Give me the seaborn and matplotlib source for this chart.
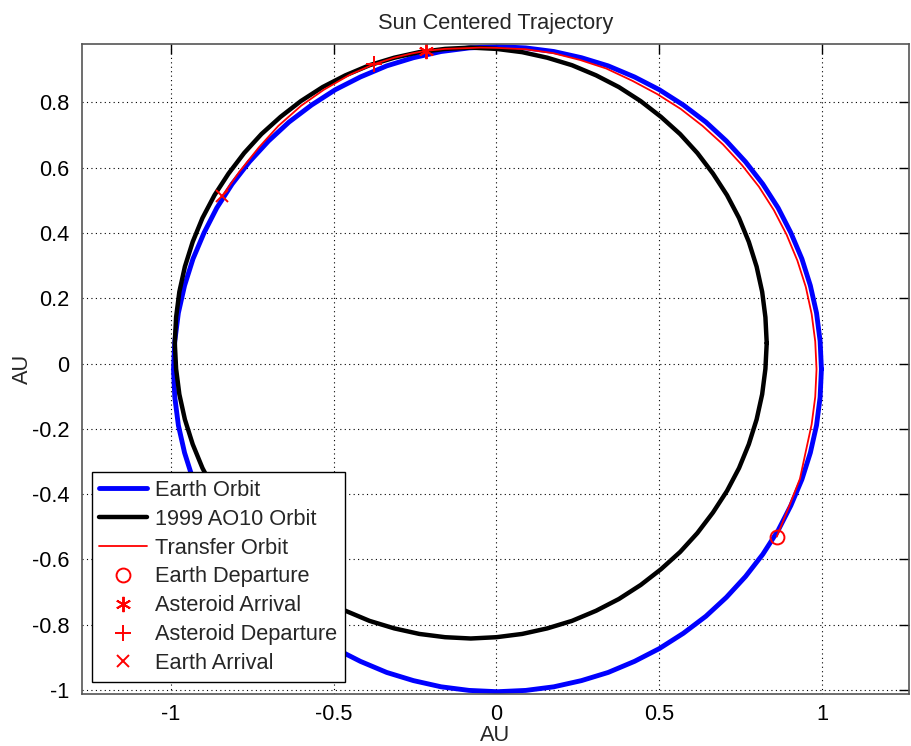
import matplotlib
matplotlib.use("Agg")
import matplotlib.pyplot as plt
import seaborn as sns

## orbit points (AU), going round counter-clockwise
earth_x = [0.998, 0.994, 0.983, 0.964, 0.938, 0.904, 0.865, 0.818, 0.765, 0.706,
           0.643, 0.574, 0.500, 0.424, 0.343, 0.261, 0.176, 0.090, 0.003,
           -0.084, -0.170, -0.255, -0.337, -0.418, -0.495, -0.568, -0.637, -0.700,
           -0.759, -0.812, -0.859, -0.898, -0.932, -0.958, -0.977, -0.988, -0.992,
           -0.988, -0.977, -0.958, -0.932, -0.898, -0.859, -0.812, -0.759, -0.700,
           -0.637, -0.568, -0.495, -0.418, -0.337, -0.255, -0.170, -0.084, 0.003,
           0.090, 0.176, 0.261, 0.343, 0.424, 0.500, 0.574, 0.643, 0.706,
           0.765, 0.818, 0.865, 0.904, 0.938, 0.964, 0.983, 0.994, 0.998]
earth_y = [-0.017, 0.069, 0.155, 0.239, 0.321, 0.401, 0.477, 0.550, 0.618, 0.682,
           0.740, 0.792, 0.839, 0.878, 0.912, 0.937, 0.956, 0.967, 0.971,
           0.967, 0.956, 0.937, 0.912, 0.878, 0.839, 0.792, 0.740, 0.682,
           0.618, 0.550, 0.477, 0.401, 0.321, 0.239, 0.155, 0.069, -0.017,
           -0.103, -0.189, -0.273, -0.355, -0.435, -0.511, -0.584, -0.652, -0.716,
           -0.774, -0.826, -0.873, -0.912, -0.946, -0.971, -0.990, -1.001, -1.005,
           -1.001, -0.990, -0.971, -0.946, -0.912, -0.873, -0.826, -0.774, -0.716,
           -0.652, -0.584, -0.511, -0.435, -0.355, -0.273, -0.189, -0.103, -0.017]

ast_x = [0.830, 0.826, 0.816, 0.799, 0.775, 0.745, 0.708, 0.665, 0.617, 0.564,
         0.505, 0.443, 0.376, 0.306, 0.232, 0.156, 0.079, 0.000, -0.079,
         -0.158, -0.237, -0.314, -0.390, -0.464, -0.534, -0.601, -0.663, -0.722,
         -0.775, -0.823, -0.866, -0.903, -0.933, -0.957, -0.974, -0.984, -0.988,
         -0.984, -0.974, -0.957, -0.933, -0.903, -0.866, -0.823, -0.775, -0.722,
         -0.663, -0.601, -0.534, -0.464, -0.390, -0.314, -0.237, -0.158, -0.079,
         0.000, 0.079, 0.156, 0.232, 0.306, 0.376, 0.443, 0.505, 0.564,
         0.617, 0.665, 0.708, 0.745, 0.775, 0.799, 0.816, 0.826, 0.830]
ast_y = [0.063, 0.142, 0.220, 0.297, 0.373, 0.446, 0.516, 0.582, 0.645, 0.703,
         0.756, 0.804, 0.847, 0.883, 0.914, 0.937, 0.954, 0.964, 0.968,
         0.964, 0.954, 0.937, 0.914, 0.883, 0.847, 0.804, 0.756, 0.703,
         0.645, 0.582, 0.516, 0.446, 0.373, 0.297, 0.220, 0.142, 0.063,
         -0.016, -0.094, -0.171, -0.247, -0.320, -0.390, -0.456, -0.519, -0.577,
         -0.630, -0.678, -0.721, -0.757, -0.788, -0.811, -0.828, -0.838, -0.842,
         -0.838, -0.828, -0.811, -0.788, -0.757, -0.721, -0.678, -0.630, -0.577,
         -0.519, -0.456, -0.390, -0.320, -0.247, -0.171, -0.094, -0.016, 0.063]

transfer_x = [0.861, 0.900, 0.932, 0.950, 0.968, 0.979, 0.983, 0.979, 0.968, 0.950,
              0.924, 0.891, 0.852, 0.806, 0.754, 0.696, 0.633, 0.566, 0.493, 0.418,
              0.337, 0.257, 0.174, 0.089, 0.003, -0.050, -0.100, -0.158, -0.217,
              -0.260, -0.314, -0.377, -0.450, -0.530, -0.600, -0.670, -0.730,
              -0.790, -0.815, -0.842]
transfer_y = [-0.530, -0.434, -0.353, -0.269, -0.186, -0.102, -0.017, 0.068, 0.152, 0.235,
              0.316, 0.395, 0.470, 0.542, 0.608, 0.671, 0.728, 0.780, 0.826, 0.866,
              0.904, 0.930, 0.951, 0.963, 0.967, 0.968, 0.966, 0.964, 0.958,
              0.950, 0.937, 0.917, 0.885, 0.839, 0.790, 0.728, 0.662,
              0.587, 0.552, 0.514]

## event markers
earth_dep = (0.861, -0.530)
ast_arr = (-0.217, 0.958)
ast_dep = (-0.377, 0.917)
earth_arr = (-0.842, 0.514)

x_ticks = [-1, -0.5, 0, 0.5, 1]
x_labels = ['-1', '-0.5', '0', '0.5', '1']
y_ticks = [-1, -0.8, -0.6, -0.4, -0.2, 0, 0.2, 0.4, 0.6, 0.8]
y_labels = ['-1', '-0.8', '-0.6', '-0.4', '-0.2', '0', '0.2', '0.4', '0.6', '0.8']

sns.set_style("white")
plt.rcParams['font.family'] = ['Liberation Sans', 'DejaVu Sans']
plt.rcParams['axes.unicode_minus'] = False
plt.rcParams['lines.solid_joinstyle'] = 'round'
fs = 15.7

fig = plt.figure(figsize=(9.11, 7.46), dpi=100)
ax = fig.add_axes([82 / 911, 1 - 694 / 746, 827 / 911, 650 / 746])

sns.lineplot(x=earth_x, y=earth_y, sort=False, estimator=None, color='#0000ff',
             linewidth=3.5, label='Earth Orbit', ax=ax)
sns.lineplot(x=ast_x, y=ast_y, sort=False, estimator=None, color='black',
             linewidth=3.2, label='1999 AO10 Orbit', ax=ax)
sns.lineplot(x=transfer_x, y=transfer_y, sort=False, estimator=None, color='red',
             linewidth=1.3, label='Transfer Orbit', ax=ax)

marker_specs = [
    (earth_dep, 'o', 10, 'Earth Departure'),
    (ast_arr, (6, 2, 0), 11, 'Asteroid Arrival'),
    (ast_dep, '+', 11, 'Asteroid Departure'),
    (earth_arr, 'x', 8, 'Earth Arrival'),
]
for pt, mk, ms, lab in marker_specs:
    sns.lineplot(x=[pt[0]], y=[pt[1]], marker=mk, linestyle='none', markersize=ms,
                 markerfacecolor='none', markeredgecolor='red', markeredgewidth=1.4,
                 color='red', label=lab, ax=ax)

ax.set_xlim(-1.273, 1.267)
ax.set_ylim(-1.012, 0.979)
ax.set_xticks(x_ticks)
ax.set_xticklabels(x_labels)
ax.set_yticks(y_ticks)
ax.set_yticklabels(y_labels)
ax.tick_params(direction='in', length=7, width=1, colors='black', labelsize=fs,
               top=True, right=True)
ax.tick_params(axis='x', pad=7)
ax.tick_params(axis='y', pad=9)
ax.grid(True, color='black', linestyle=(0, (1, 3)), linewidth=0.8)
for sp in ax.spines.values():
    sp.set_color('#555555')
    sp.set_linewidth(1.2)

ax.set_title('Sun Centered Trajectory', fontsize=fs, pad=11)
ax.set_xlabel('AU', fontsize=fs, labelpad=0)
ax.set_ylabel('AU', fontsize=fs, labelpad=-1)

leg = ax.legend(loc='lower left', bbox_to_anchor=(0.0117, 0.019), borderaxespad=0,
                fontsize=fs, frameon=True, fancybox=False, framealpha=1,
                edgecolor='black', handlelength=2.2, handletextpad=0.35,
                labelspacing=0.36, borderpad=0.35)
leg.get_frame().set_linewidth(1.0)

fig.savefig('out.png', dpi=100)
